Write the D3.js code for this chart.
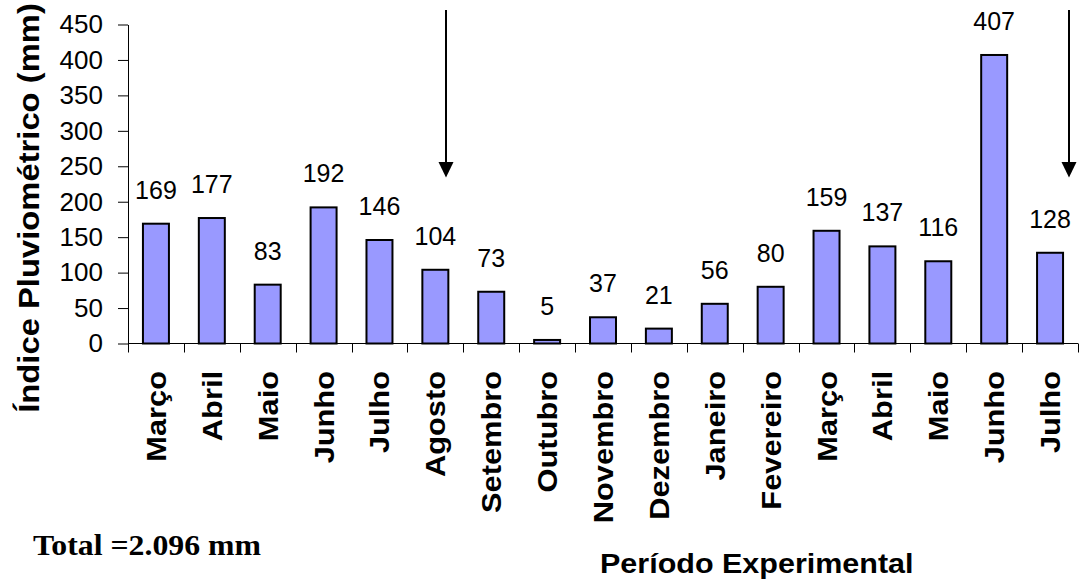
<!DOCTYPE html>
<html>
<head>
<meta charset="utf-8">
<script src="https://cdn.jsdelivr.net/npm/d3@7"></script>
<style>
  html, body { margin: 0; padding: 0; background: #fff; }
  svg { display: block; }
  text { font-family: "Liberation Sans", Arial, sans-serif; fill: #000; }
</style>
</head>
<body>
<svg id="chart" width="1080" height="584"></svg>
<script>
// Monthly rainfall over the experimental period (mm)
const months = ["Março", "Abril", "Maio", "Junho", "Julho", "Agosto", "Setembro", "Outubro",
                "Novembro", "Dezembro", "Janeiro", "Fevereiro", "Março", "Abril", "Maio", "Junho", "Julho"];
const rainfall = [169, 177, 83, 192, 146, 104, 73, 5, 37, 21, 56, 80, 159, 137, 116, 407, 128];
const yTicks = [0, 50, 100, 150, 200, 250, 300, 350, 400, 450];
// Months marked with an arrow (indices into months)
const arrowMonths = [5, 16];
const yTitle = "Índice Pluviométrico (mm)";
const xTitle = "Período Experimental";
const totalNote = "Total =2.096 mm";

const svg = d3.select("#chart");
const plotLeft = 128, plotRight = 1078, plotTop = 24.5, plotBottom = 343.5;

const idx = d3.range(months.length);
const x = d3.scaleBand().domain(idx).range([plotLeft, plotRight])
  .paddingInner(0.535).paddingOuter(0.2675);
const y = d3.scaleLinear().domain([0, 450]).range([plotBottom, plotTop]);
const step = x.step();

// Bars
svg.append("g").selectAll("rect").data(rainfall).join("rect")
  .attr("x", (d, i) => x(i))
  .attr("y", d => y(d))
  .attr("width", x.bandwidth())
  .attr("height", d => y(0) - y(d))
  .attr("fill", "#9999ff")
  .attr("stroke", "#000")
  .attr("stroke-width", 2);

// Value labels above bars
svg.append("g").selectAll("text").data(rainfall).join("text")
  .attr("x", (d, i) => x(i) + x.bandwidth() / 2)
  .attr("y", d => y(d) - 25)
  .attr("text-anchor", "middle")
  .style("font-size", "25px")
  .text(d => d);

// Y axis
const yAxis = svg.append("g")
  .attr("transform", `translate(${plotLeft},0)`)
  .call(d3.axisLeft(y).tickValues(yTicks).tickSize(10).tickSizeOuter(0).tickPadding(15));
yAxis.select(".domain").attr("stroke", "#000");
yAxis.selectAll(".tick line").attr("stroke", "#000");
yAxis.selectAll("text").style("font-size", "26px").style("font-family", "'Liberation Sans', Arial, sans-serif");

// X axis: baseline with ticks at category boundaries
const xg = svg.append("g");
xg.append("line").attr("x1", plotLeft).attr("x2", plotRight).attr("y1", plotBottom).attr("y2", plotBottom)
  .attr("stroke", "#000");
xg.selectAll("line.tk").data(d3.range(months.length + 1)).join("line")
  .attr("class", "tk")
  .attr("x1", i => Math.round(plotLeft + i * step) + 0.5)
  .attr("x2", i => Math.round(plotLeft + i * step) + 0.5)
  .attr("y1", plotBottom).attr("y2", plotBottom + 9)
  .attr("stroke", "#000");

// Rotated month labels
xg.selectAll("text").data(months).join("text")
  .attr("transform", (d, i) => `translate(${x(i) + x.bandwidth() / 2 + 10},371) rotate(-90) scale(1.1,1)`)
  .attr("text-anchor", "end")
  .style("font-size", "28px")
  .style("font-weight", "bold")
  .text(d => d);

// Axis titles
svg.append("text")
  .attr("transform", "translate(39,208) rotate(-90) scale(1.13,1)")
  .attr("text-anchor", "middle")
  .style("font-size", "29px")
  .style("font-weight", "bold")
  .text(yTitle);

svg.append("text")
  .attr("transform", "translate(600,573) scale(1.09,1)")
  .style("font-size", "28px")
  .style("font-weight", "bold")
  .text(xTitle);

svg.append("text")
  .attr("transform", "translate(33,555) scale(1.06,1)")
  .style("font-family", "'Liberation Serif', 'Times New Roman', serif")
  .style("font-size", "30px")
  .style("font-weight", "bold")
  .text(totalNote);

// Arrows marking the start and end of the period
const arrowOffset = [0.69, 0.83];
const arrows = svg.append("g");
arrowMonths.forEach((m, k) => {
  const ax = Math.round(x(m) - x.step() * x.paddingInner() / 2 + arrowOffset[k] * step);
  arrows.append("line")
    .attr("x1", ax).attr("x2", ax).attr("y1", 10).attr("y2", 163)
    .attr("stroke", "#000").attr("stroke-width", 2);
  arrows.append("path")
    .attr("d", `M${ax - 7.5},162 L${ax + 7.5},162 L${ax},177.5 Z`)
    .attr("fill", "#000");
});
</script>
</body>
</html>
